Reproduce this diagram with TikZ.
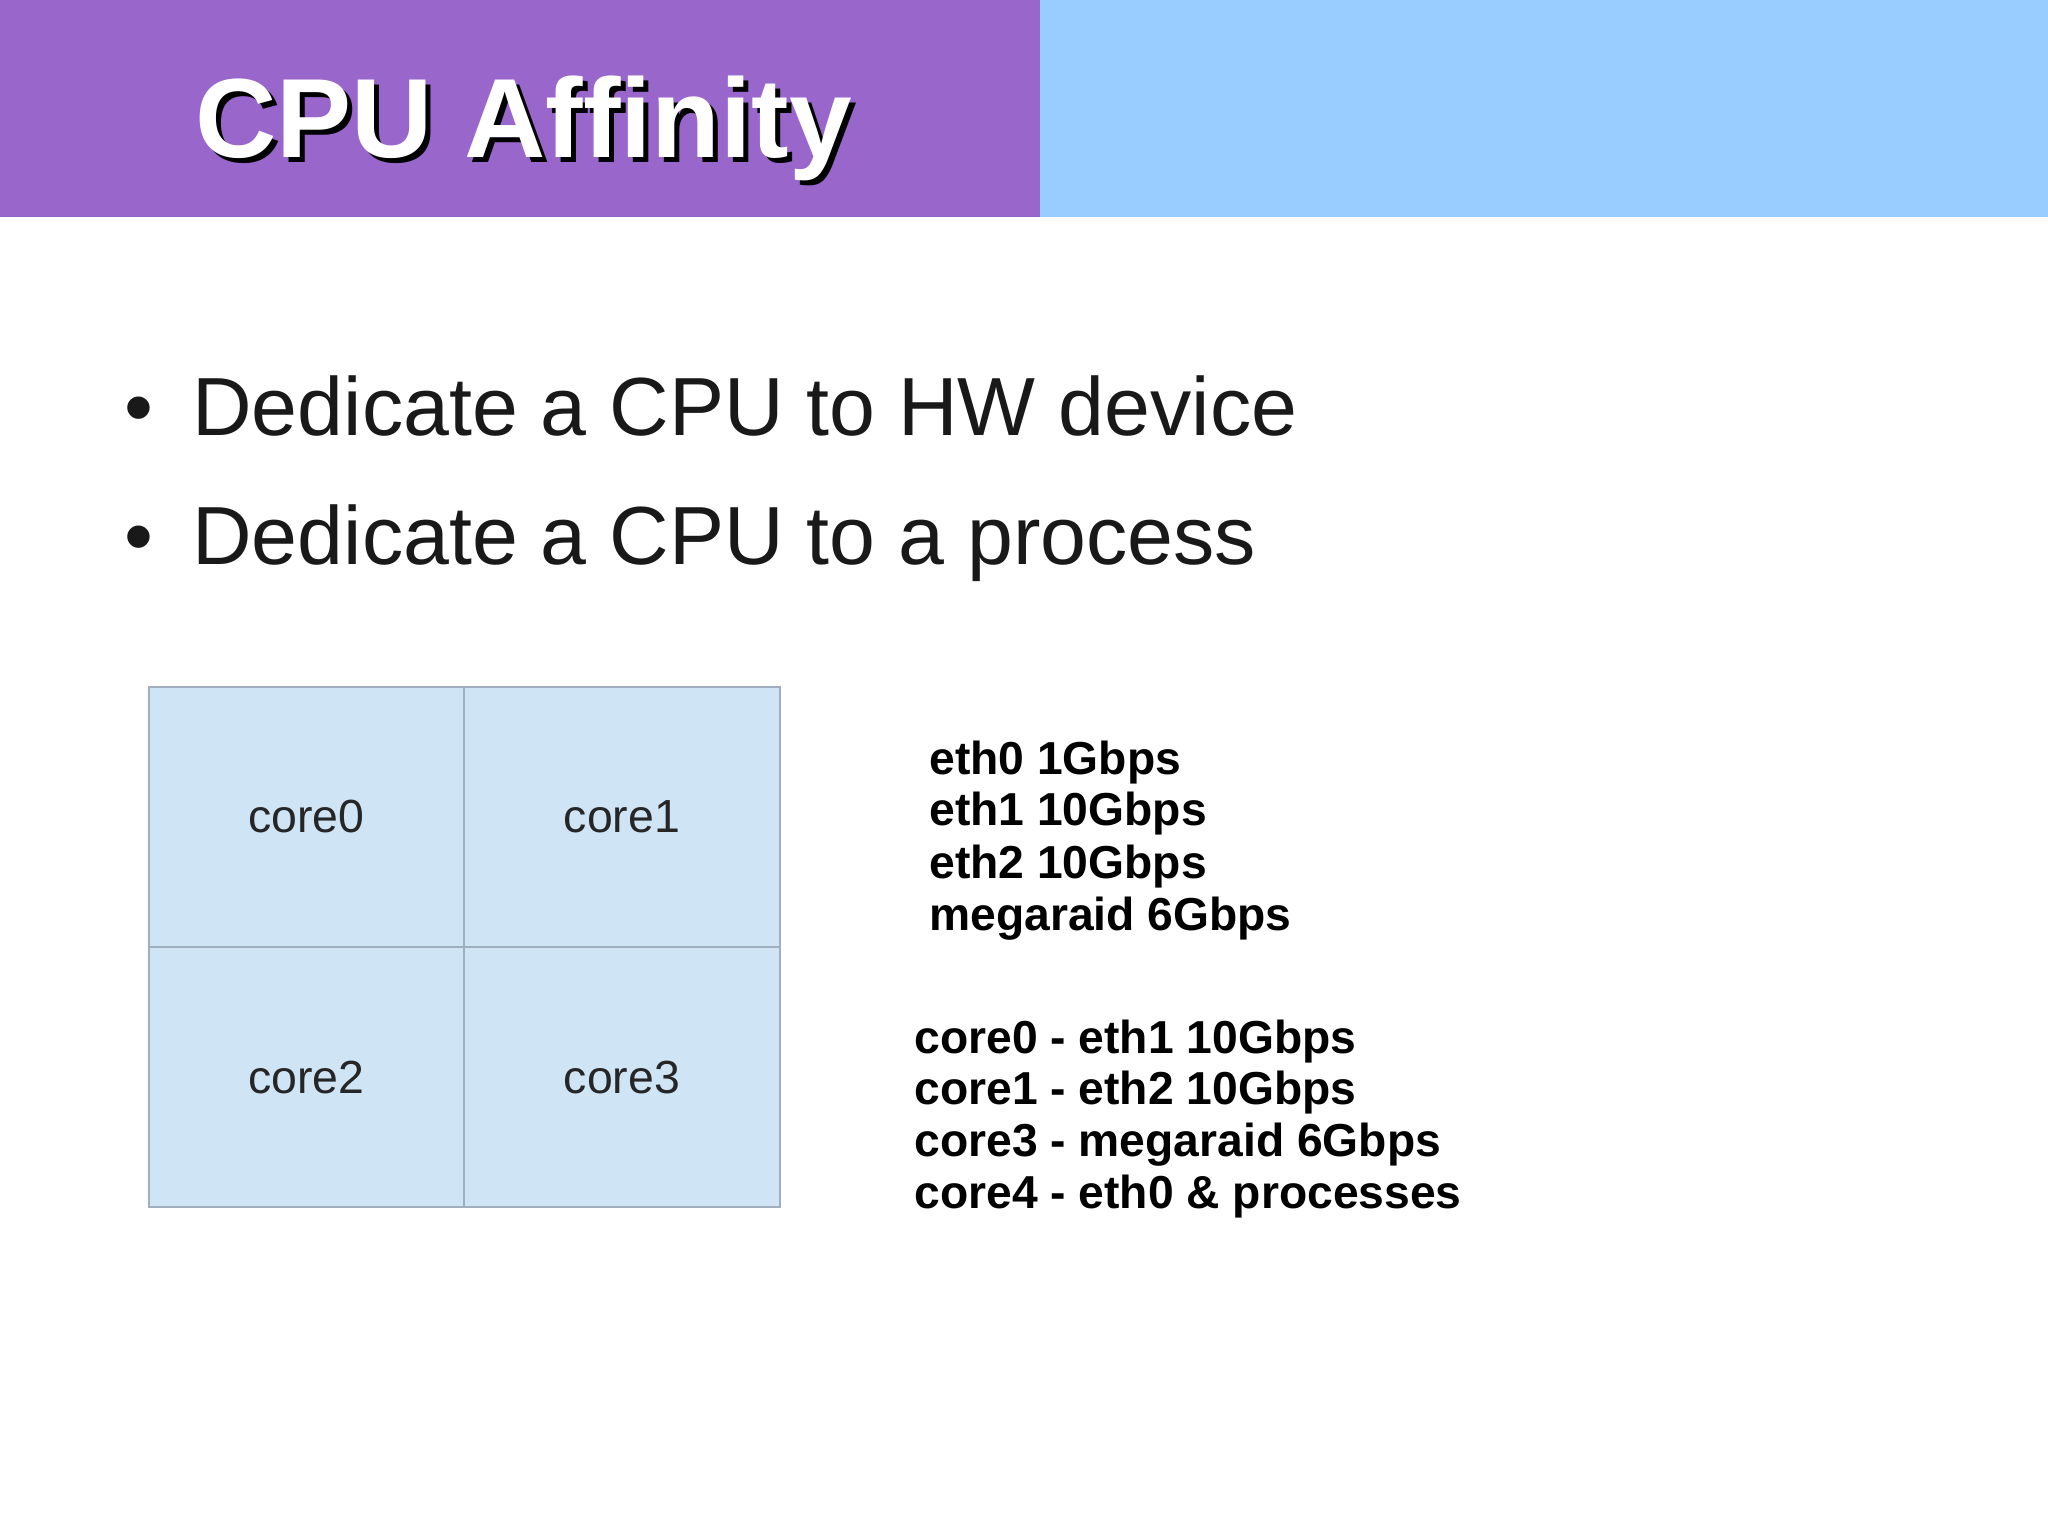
\documentclass[tikz,border=0pt]{standalone}
\usepackage{fontspec}
\setmainfont{Liberation Sans}
\definecolor{hdrpurple}{RGB}{153,102,204}
\definecolor{hdrblue}{RGB}{153,204,255}
\definecolor{cellblue}{RGB}{207,228,245}
\definecolor{cellline}{RGB}{160,175,190}
\tikzset{
  cell/.style={draw=cellline,fill=cellblue,line width=0.6bp},
  corelbl/.style={font=\fontsize{23.3}{28}\selectfont,text=black!85},
  info/.style={anchor=base west,inner sep=0pt,font=\bfseries\fontsize{23.2}{27}\selectfont},
  bul/.style={anchor=base west,inner sep=0pt,font=\fontsize{41.4}{48}\selectfont,text=black!90}
}
\begin{document}
\begin{tikzpicture}[x=0.5bp,y=-0.5bp]
\useasboundingbox (0,0) rectangle (2048,1535);
\fill[white] (0,0) rectangle (2048,1535);
\fill[hdrpurple] (0,0) rectangle (1040,217);
\fill[hdrblue] (1040,0) rectangle (2048,217);
\node[anchor=base west,inner sep=0pt,font=\bfseries\fontsize{56.5}{64}\selectfont,text=black] (tshadow) at (200,162) {CPU Affinity};
\node[anchor=base west,inner sep=0pt,font=\bfseries\fontsize{56.5}{64}\selectfont,text=white] (title) at (195,157) {CPU Affinity};
\node[bul] (b1dot) at (124,435) {•};
\node[bul] (b1) at (192,435) {Dedicate a CPU to HW device};
\node[bul] (b2dot) at (124,564) {•};
\node[bul] (b2) at (192,564) {Dedicate a CPU to a process};
\draw[cell] (149,687) rectangle (464,947);
\draw[cell] (464,687) rectangle (780,947);
\draw[cell] (149,947) rectangle (464,1207);
\draw[cell] (464,947) rectangle (780,1207);
\node[corelbl] (c0) at (306.5,817) {core0};
\node[corelbl] (c1) at (622,817) {core1};
\node[corelbl] (c2) at (306.5,1077) {core2};
\node[corelbl] (c3) at (622,1077) {core3};
\node[info] (i1) at (929,774) {eth0 1Gbps};
\node[info] (i2) at (929,825) {eth1 10Gbps};
\node[info] (i3) at (929,878) {eth2 10Gbps};
\node[info] (i4) at (929,930) {megaraid 6Gbps};
\node[info] (m1) at (914,1053) {core0 - eth1 10Gbps};
\node[info] (m2) at (914,1104) {core1 - eth2 10Gbps};
\node[info] (m3) at (914,1156) {core3 - megaraid 6Gbps};
\node[info] (m4) at (914,1208) {core4 - eth0 \& processes};
\end{tikzpicture}
\end{document}
